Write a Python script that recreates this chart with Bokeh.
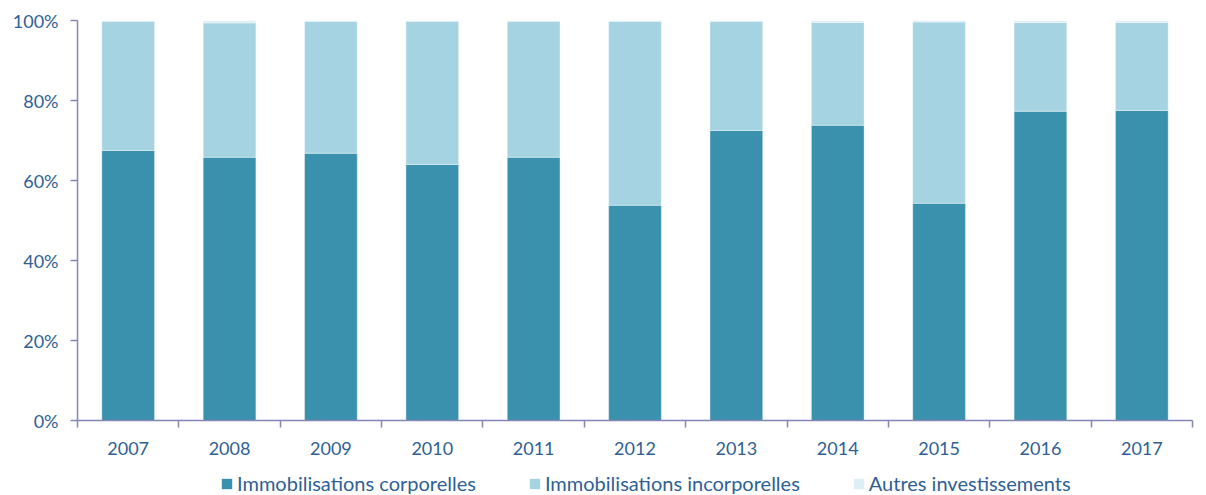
from bokeh.plotting import figure
from bokeh.layouts import column
from bokeh.models import ColumnDataSource, FixedTicker, PrintfTickFormatter, Legend, LegendItem, Range1d
from bokeh.embed import file_html
from bokeh.resources import INLINE

years = ["2007", "2008", "2009", "2010", "2011", "2012", "2013", "2014", "2015", "2016", "2017"]
corporelles = [67.5, 65.8, 66.8, 64.0, 65.8, 53.8, 72.5, 73.8, 54.3, 77.3, 77.5]
autres = [0.2, 0.6, 0.2, 0.2, 0.2, 0.2, 0.2, 0.5, 0.4, 0.5, 0.5]
incorporelles = [round(100 - c - a, 1) for c, a in zip(corporelles, autres)]

series = ["corporelles", "incorporelles", "autres"]
labels = ["Immobilisations corporelles", "Immobilisations incorporelles", "Autres investissements"]
colors = ["#3A91AE", "#A6D3E2", "#DDEEF4"]

xpos = [i + 0.5 for i in range(len(years))]
source = ColumnDataSource(dict(x=xpos, corporelles=corporelles, incorporelles=incorporelles, autres=autres))

FONT = "Lato"
TXT = "#2F5F95"
AX = "#8585B8"

p = figure(width=1200, height=462, output_backend="svg", toolbar_location=None,
           x_range=Range1d(0, len(years)), y_range=Range1d(0, 100))
p.min_border_left = 77
p.min_border_right = 8
p.min_border_top = 20
p.min_border_bottom = 42
p.outline_line_color = None
p.xgrid.grid_line_color = None
p.ygrid.grid_line_color = None

rs = p.vbar_stack(series, x="x", width=0.52, color=colors, source=source,
                  line_color="white", line_width=0.6, line_alpha=0.6)

# X axis: labels at centres, ticks between categories
p.xaxis.ticker = FixedTicker(ticks=xpos, minor_ticks=list(range(len(years) + 1)))
p.xaxis.major_label_overrides = {x: y for x, y in zip(xpos, years)}
p.xaxis.major_tick_out = 0
p.xaxis.major_tick_in = 0
p.xaxis.minor_tick_out = 7
p.xaxis.minor_tick_in = 0
p.xaxis.minor_tick_line_color = AX
p.xaxis.axis_line_color = AX
p.xaxis.axis_line_width = 1.5
p.xaxis.minor_tick_line_width = 1.5
p.xaxis.major_label_standoff = 14
p.xaxis.major_label_text_font = FONT
p.xaxis.major_label_text_font_size = "18px"
p.xaxis.major_label_text_color = TXT

p.yaxis.ticker = FixedTicker(ticks=[0, 20, 40, 60, 80, 100], minor_ticks=[])
p.yaxis.formatter = PrintfTickFormatter(format="%d%%")
p.yaxis.major_tick_out = 7
p.yaxis.major_tick_in = 0
p.yaxis.major_tick_line_color = AX
p.yaxis.major_tick_line_width = 1.5
p.yaxis.axis_line_color = AX
p.yaxis.axis_line_width = 1.5
p.yaxis.major_label_standoff = 12
p.yaxis.major_label_text_font = FONT
p.yaxis.major_label_text_font_size = "18px"
p.yaxis.major_label_text_color = TXT

# Legend in its own strip below the chart
p2 = figure(width=1200, height=33, output_backend="svg", toolbar_location=None,
            x_range=Range1d(0, 1), y_range=Range1d(0, 1), min_border=0,
            x_axis_location=None, y_axis_location=None)
p2.grid.visible = False
p2.outline_line_color = None
p2.background_fill_color = None
p2.border_fill_color = None
dummy = [p2.vbar(x=[0.5], top=[0], bottom=[0], width=0.0, fill_color=c, line_alpha=0)
         for c in colors]

legend = Legend(items=[LegendItem(label=l, renderers=[r]) for l, r in zip(labels, dummy)],
                orientation="horizontal", location=(143, 0))
legend.label_text_font = FONT
legend.label_text_font_size = "20px"
legend.label_text_color = TXT
legend.glyph_width = 13
legend.glyph_height = 13
legend.label_height = 16
legend.spacing = 52
legend.label_standoff = 4
legend.border_line_color = None
legend.background_fill_alpha = 0
legend.padding = 0
legend.margin = 0
p2.add_layout(legend)

open("out.html", "w").write(file_html(column(p, p2, spacing=0), INLINE))
